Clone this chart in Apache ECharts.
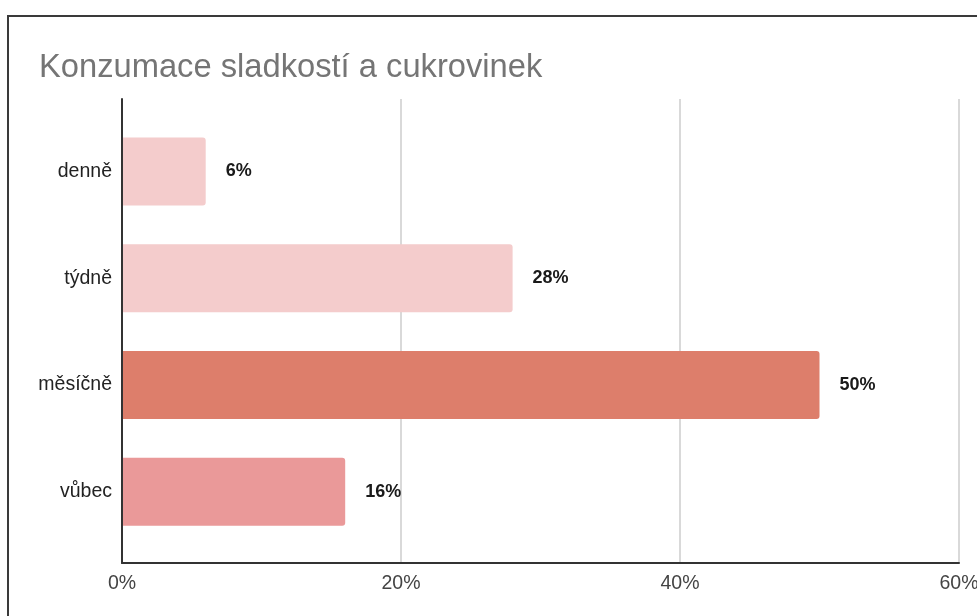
<!DOCTYPE html>
<html>
<head>
<meta charset="utf-8">
<script src="https://cdn.jsdelivr.net/npm/echarts@6/dist/echarts.min.js"></script>
<style>
  html, body { margin: 0; padding: 0; background: #fff; }
  #wrap { position: relative; width: 977px; height: 616px; overflow: hidden; }
  #frame { position: absolute; left: 7px; top: 15px; width: 1000px; height: 700px;
           border-left: 2px solid #3a3a3a; border-top: 2px solid #3a3a3a; }
  #chart { position: absolute; left: 0; top: 0; width: 977px; height: 616px; }
</style>
</head>
<body>
<div id="wrap">
  <div id="frame"></div>
  <div id="chart"></div>
</div>
<script>
// Frequency categories and share of respondents (%)
const categories = ['denně', 'týdně', 'měsíčně', 'vůbec'];
const values = [6, 28, 50, 16];
const barColors = ['#f4cccc', '#f4cccc', '#dd7e6b', '#ea9999'];
const tickValues = [0, 20, 40, 60];

const chart = echarts.init(document.getElementById('chart'), null, { renderer: 'canvas' });

const axisMin = tickValues[0];
const axisMax = tickValues[tickValues.length - 1];
const axisInterval = tickValues[1] - tickValues[0];
const FONT = 'Liberation Sans, Arial, Helvetica, sans-serif';

chart.setOption({
  animation: false,
  title: {
    text: 'Konzumace sladkostí a cukrovinek',
    left: 34, top: 46.5,
    textStyle: { fontFamily: FONT, fontSize: 32.7, fontWeight: 'normal', color: '#757575' }
  },
  grid: [
    // bars
    { left: 122, right: 18, top: 118, bottom: 71, outerBoundsMode: 'none', containLabel: false },
    // axes, gridlines and tick labels
    { left: 122, right: 18, top: 99, bottom: 53, outerBoundsMode: 'none', containLabel: false }
  ],
  xAxis: [
    { gridIndex: 0, type: 'value', min: axisMin, max: axisMax, interval: axisInterval, show: false },
    {
      gridIndex: 1, type: 'value', min: axisMin, max: axisMax, interval: axisInterval,
      axisLine: { show: true, lineStyle: { color: '#333', width: 2 } },
      axisTick: { show: false },
      splitLine: { show: true, lineStyle: { color: '#cccccc', width: 1.5 } },
      axisLabel: { formatter: '{value}%', margin: 11, fontFamily: FONT, fontSize: 19.5, color: '#444' }
    }
  ],
  yAxis: [
    {
      gridIndex: 0, type: 'category', data: categories, inverse: true,
      axisLine: { show: false }, axisTick: { show: false },
      axisLabel: { margin: 10, fontFamily: FONT, fontSize: 19.5, color: '#222' }
    },
    {
      gridIndex: 1, type: 'value', min: 0, max: 1, z: 10,
      axisLine: { show: true, lineStyle: { color: '#333', width: 2 } },
      axisTick: { show: false }, axisLabel: { show: false }, splitLine: { show: false }
    }
  ],
  series: [{
    type: 'bar',
    xAxisIndex: 0, yAxisIndex: 0,
    data: values.map((v, i) => ({ value: v, itemStyle: { color: barColors[i] } })),
    barWidth: 68,
    itemStyle: { borderRadius: [0, 3, 3, 0] },
    label: {
      show: true, position: 'right', distance: 20,
      formatter: '{c}%',
      fontFamily: FONT, fontSize: 18, fontWeight: 'bold', color: '#1a1a1a'
    }
  }]
});
</script>
</body>
</html>
